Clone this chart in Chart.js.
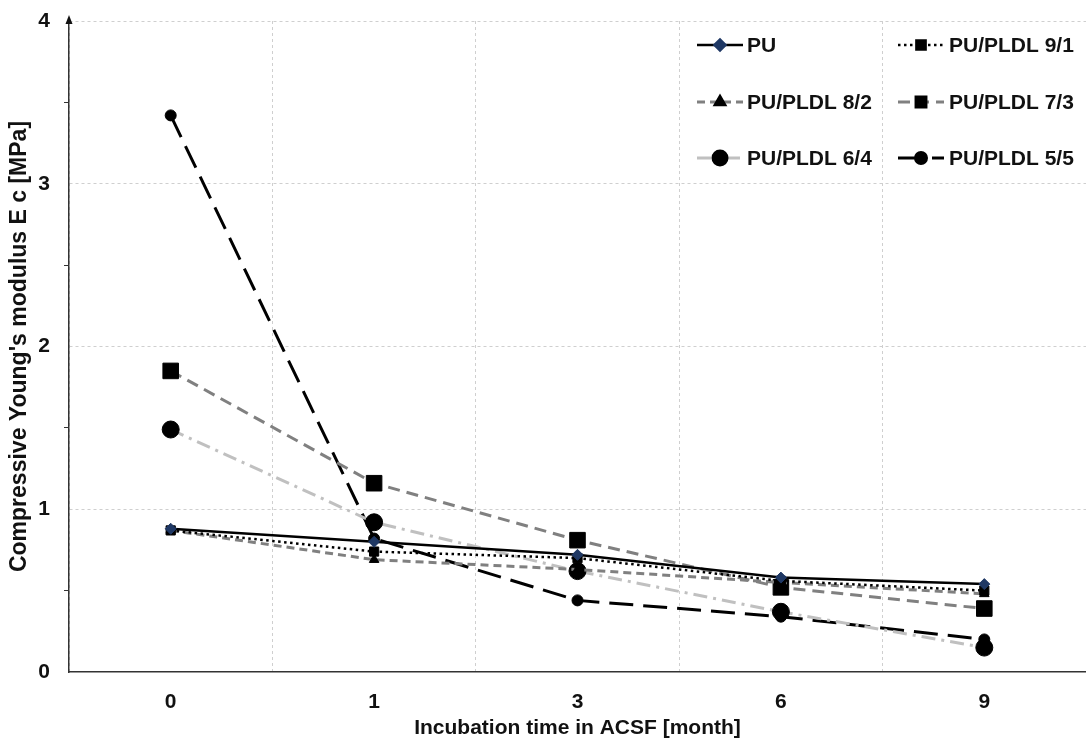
<!DOCTYPE html>
<html><head><meta charset="utf-8">
<script src="https://cdn.jsdelivr.net/npm/chart.js@4/dist/chart.umd.min.js"></script>
<style>html,body{margin:0;padding:0;background:#fff}#wrap{width:1086px;height:742px}</style>
</head><body><div id="wrap"><canvas id="c" width="1086" height="742"></canvas></div>
<script>
const categories = ['0','1','3','6','9'];
const seriesNames = ['PU','PU/PLDL 9/1','PU/PLDL 8/2','PU/PLDL 7/3','PU/PLDL 6/4','PU/PLDL 5/5'];
const pu   = [0.88,0.80,0.72,0.58,0.54];
const pu91 = [0.87,0.74,0.70,0.56,0.50];
const pu82 = [0.87,0.69,0.63,0.55,0.48];
const pu73 = [1.85,1.16,0.81,0.52,0.39];
const pu64 = [1.49,0.92,0.62,0.37,0.15];
const pu55 = [3.42,0.82,0.44,0.34,0.20];
const yMin = 0, yMax = 4, yStep = 0.5;
const xTitle = 'Incubation time in ACSF [month]';
const yTitle = "Compressive Young's modulus E c [MPa]";

const FONT = "'Liberation Sans', Arial, sans-serif";
Chart.defaults.font.family = FONT;
Chart.defaults.color = '#111';

function ds(label, data, color, dash, width, pstyle, radius, pcolor){
  return {label, data, borderColor: color, borderDash: dash, borderWidth: width,
    pointStyle: pstyle, pointRadius: radius, pointHoverRadius: radius,
    pointBackgroundColor: pcolor, pointBorderColor: pcolor, pointBorderWidth: 1,
    tension: 0, fill: false, clip: false};
}
const datasets = [
  ds(seriesNames[0], pu,   '#000000', [],          2.5, 'rectRot',  5.5, '#1f3864'),
  ds(seriesNames[1], pu91, '#000000', [2.5,3.5],   2.5, 'rect',     6.5, '#000000'),
  ds(seriesNames[2], pu82, '#808080', [8,5],       3,   'triangle', 5.5, '#000000'),
  ds(seriesNames[3], pu73, '#808080', [12,7],      3,   'rect',     11,  '#000000'),
  ds(seriesNames[4], pu64, '#c0c0c0', [14,6,3,6],  3,   'circle',   8.5, '#000000'),
  ds(seriesNames[5], pu55, '#000000', [24,10],     3,   'circle',   5.5, '#000000')
];

const arrowPlugin = {
  id: 'arrow',
  afterDraw(chart){
    const {ctx, chartArea} = chart;
    const x = chartArea.left, t = chartArea.top;
    ctx.save();
    ctx.strokeStyle = '#333'; ctx.lineWidth = 1.5;
    ctx.beginPath(); ctx.moveTo(x, t); ctx.lineTo(x, t - 3); ctx.stroke();
    ctx.fillStyle = '#111';
    ctx.beginPath(); ctx.moveTo(x, t - 6); ctx.lineTo(x - 3.5, t + 3); ctx.lineTo(x + 3.5, t + 3); ctx.closePath(); ctx.fill();
    ctx.restore();
  }
};

const legendPlugin = {
  id: 'innerLegend',
  afterDatasetsDraw(chart){
    const {ctx} = chart;
    const cols = [{x1:697, x2:743, tx:747},{x1:898, x2:944, tx:949}];
    const rows = [45, 102, 158];
    chart.data.datasets.forEach((d, i) => {
      const c = cols[i % 2], y = rows[Math.floor(i / 2)];
      ctx.save();
      ctx.strokeStyle = d.borderColor; ctx.lineWidth = d.borderWidth;
      ctx.setLineDash(d.borderDash);
      ctx.beginPath(); ctx.moveTo(c.x1, y); ctx.lineTo(c.x2, y); ctx.stroke();
      ctx.setLineDash([]);
      ctx.fillStyle = d.pointBackgroundColor; ctx.strokeStyle = d.pointBorderColor;
      Chart.helpers.drawPoint(ctx, {pointStyle: d.pointStyle, radius: Math.min(d.pointRadius, 7) , rotation: 0, borderWidth: 1}, (c.x1 + c.x2) / 2, y);
      ctx.fillStyle = '#111';
      ctx.font = 'bold 21px ' + FONT;
      ctx.textBaseline = 'middle'; ctx.textAlign = 'left';
      ctx.fillText(d.label, c.tx, y + 1);
      ctx.restore();
    });
  }
};

new Chart(document.getElementById('c'), {
  type: 'line',
  data: { labels: categories, datasets },
  plugins: [arrowPlugin, legendPlugin],
  options: {
    responsive: false, animation: false, devicePixelRatio: 1,
    layout: { autoPadding: false, padding: { top: 21, right: -3, left: 0, bottom: 0 } },
    plugins: { legend: { display: false }, tooltip: { enabled: false } },
    scales: {
      x: {
        type: 'category', offset: true,
        grid: { offset: true, color: '#cfcfcf', drawTicks: false, lineWidth: 1 },
        border: { display: true, color: '#333', width: 1.5, dash: [3,3] },
        ticks: { font: { size: 21, weight: 'bold' }, color: '#111', padding: 18 },
        title: { display: true, text: xTitle, font: { size: 21, weight: 'bold' }, color: '#111', padding: { top: 0, bottom: 1 } },
        afterFit(s){ s.height = 70; s.paddingLeft = 0; s.paddingRight = 0; }
      },
      y: {
        min: yMin, max: yMax,
        ticks: { stepSize: yStep, font: { size: 21, weight: 'bold' }, color: '#111', padding: 14,
          callback: v => Number.isInteger(v) ? String(v) : '' },
        grid: {
          color: c => (Number.isInteger(c.tick.value) && c.tick.value > 0) ? '#cfcfcf' : 'rgba(0,0,0,0)',
          tickColor: c => Number.isInteger(c.tick.value) ? 'rgba(0,0,0,0)' : '#333',
          tickLength: 5, drawTicks: true, lineWidth: 1
        },
        border: { display: true, color: '#333', width: 1.5, dash: [3,3] },
        title: { display: true, text: yTitle, font: { size: 23, weight: 'bold' }, color: '#111', padding: { top: 6, bottom: 4 } },
        afterFit(s){ s.width = 69; s.paddingTop = 0; s.paddingBottom = 0; }
      }
    }
  }
});
</script>
</body></html>
